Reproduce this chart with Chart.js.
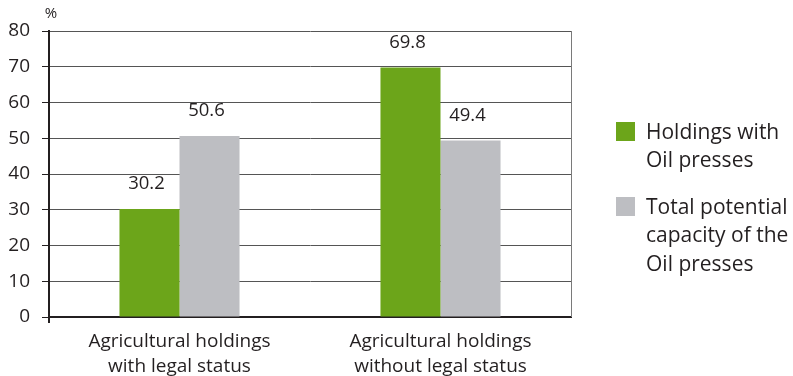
<!DOCTYPE html>
<html>
<head>
<meta charset="utf-8">
<script src="https://cdn.jsdelivr.net/npm/chart.js@4/dist/chart.umd.min.js"></script>
<style>
  html, body { margin: 0; padding: 0; background: #fff; }
  #wrap { width: 793px; height: 376px; position: relative; }
</style>
</head>
<body>
<div id="wrap"><canvas id="chart" width="793" height="376"></canvas></div>
<script>
const categories = [
    ['Agricultural holdings', 'with legal status'],
    ['Agricultural holdings', 'without legal status']
];
const holdingsWithPresses = [30.2, 69.8];
const totalCapacity = [50.6, 49.4];
const seriesNames = [['Holdings with', 'Oil presses'], ['Total potential', 'capacity of the', 'Oil presses']];
const yTicks = [0, 10, 20, 30, 40, 50, 60, 70, 80];

const GREEN = '#6ca51a';
const GREY = '#bdbec2';
const FONT = '"Open Sans", "Noto Sans", sans-serif';

const ctx = document.getElementById('chart');

// value labels over bars, plus the legend on the right and small frame bits
const extras = {
    id: 'extras',
    afterDatasetsDraw(chart) {
        const c = chart.ctx;
        c.save();
        c.font = '18.5px ' + FONT;
        c.fillStyle = '#231f20';
        c.textAlign = 'center';
        c.textBaseline = 'middle';
        chart.data.datasets.forEach((ds, i) => {
            chart.getDatasetMeta(i).data.forEach((bar, j) => {
                c.fillText(ds.data[j].toFixed(1), bar.x - 3, bar.y - 25);
            });
        });
        c.restore();
    },
    afterDraw(chart) {
        const c = chart.ctx;
        const a = chart.chartArea;
        c.save();
        // right border
        c.strokeStyle = '#7a7a7a';
        c.lineWidth = 1;
        c.beginPath();
        c.moveTo(a.right + 0.5, a.top);
        c.lineTo(a.right + 0.5, a.bottom);
        c.stroke();
        // little tick below origin
        c.strokeStyle = '#231f20';
        c.lineWidth = 2;
        c.beginPath();
        c.moveTo(a.left, a.bottom);
        c.lineTo(a.left, a.bottom + 6);
        c.stroke();
        // % unit
        c.fillStyle = '#231f20';
        c.font = '15px ' + FONT;
        c.textAlign = 'center';
        c.textBaseline = 'middle';
        c.fillText('%', 51, 14);
        // legend
        const colors = [GREEN, GREY];
        const tops = [122, 197];
        c.font = '21px ' + FONT;
        c.textAlign = 'left';
        seriesNames.forEach((lines, i) => {
            c.fillStyle = colors[i];
            c.fillRect(616, tops[i], 19, 19);
            c.fillStyle = '#231f20';
            lines.forEach((t, k) => c.fillText(t, 646, tops[i] + 11 + k * 28.5));
        });
        c.restore();
    }
};

const config = {
    type: 'bar',
    data: {
        labels: categories,
        datasets: [{
            label: 'Holdings with Oil presses',
            data: holdingsWithPresses,
            backgroundColor: GREEN
        }, {
            label: 'Total potential capacity of the Oil presses',
            data: totalCapacity,
            backgroundColor: GREY
        }]
    },
    options: {
        responsive: false,
        animation: false,
        layout: {
            padding: { left: 0, right: 222, top: 31, bottom: 0 }
        },
        datasets: {
            bar: {
                categoryPercentage: 0.46,
                barPercentage: 1.0
            }
        },
        plugins: {
            legend: { display: false },
            tooltip: { enabled: false }
        },
        scales: {
            y: {
                min: 0,
                max: 80,
                afterBuildTicks: (scale) => {
                    scale.ticks = yTicks.map(v => ({ value: v }));
                },
                afterFit: (scale) => { scale.width = 49; },
                ticks: {
                    padding: 12,
                    color: '#231f20',
                    font: { family: FONT, size: 19 }
                },
                grid: {
                    color: '#555',
                    lineWidth: 1,
                    tickLength: 7,
                    tickColor: '#231f20'
                },
                border: { color: '#231f20', width: 2 }
            },
            x: {
                afterFit: (scale) => { scale.height = 59; },
                ticks: {
                    padding: 12,
                    color: '#231f20',
                    font: { family: FONT, size: 19, lineHeight: 1.32 },
                    maxRotation: 0
                },
                grid: { display: false, drawTicks: false },
                border: { color: '#231f20', width: 2 }
            }
        }
    },
    plugins: [extras]
};

const chart = new Chart(ctx, config);
</script>
</body>
</html>
